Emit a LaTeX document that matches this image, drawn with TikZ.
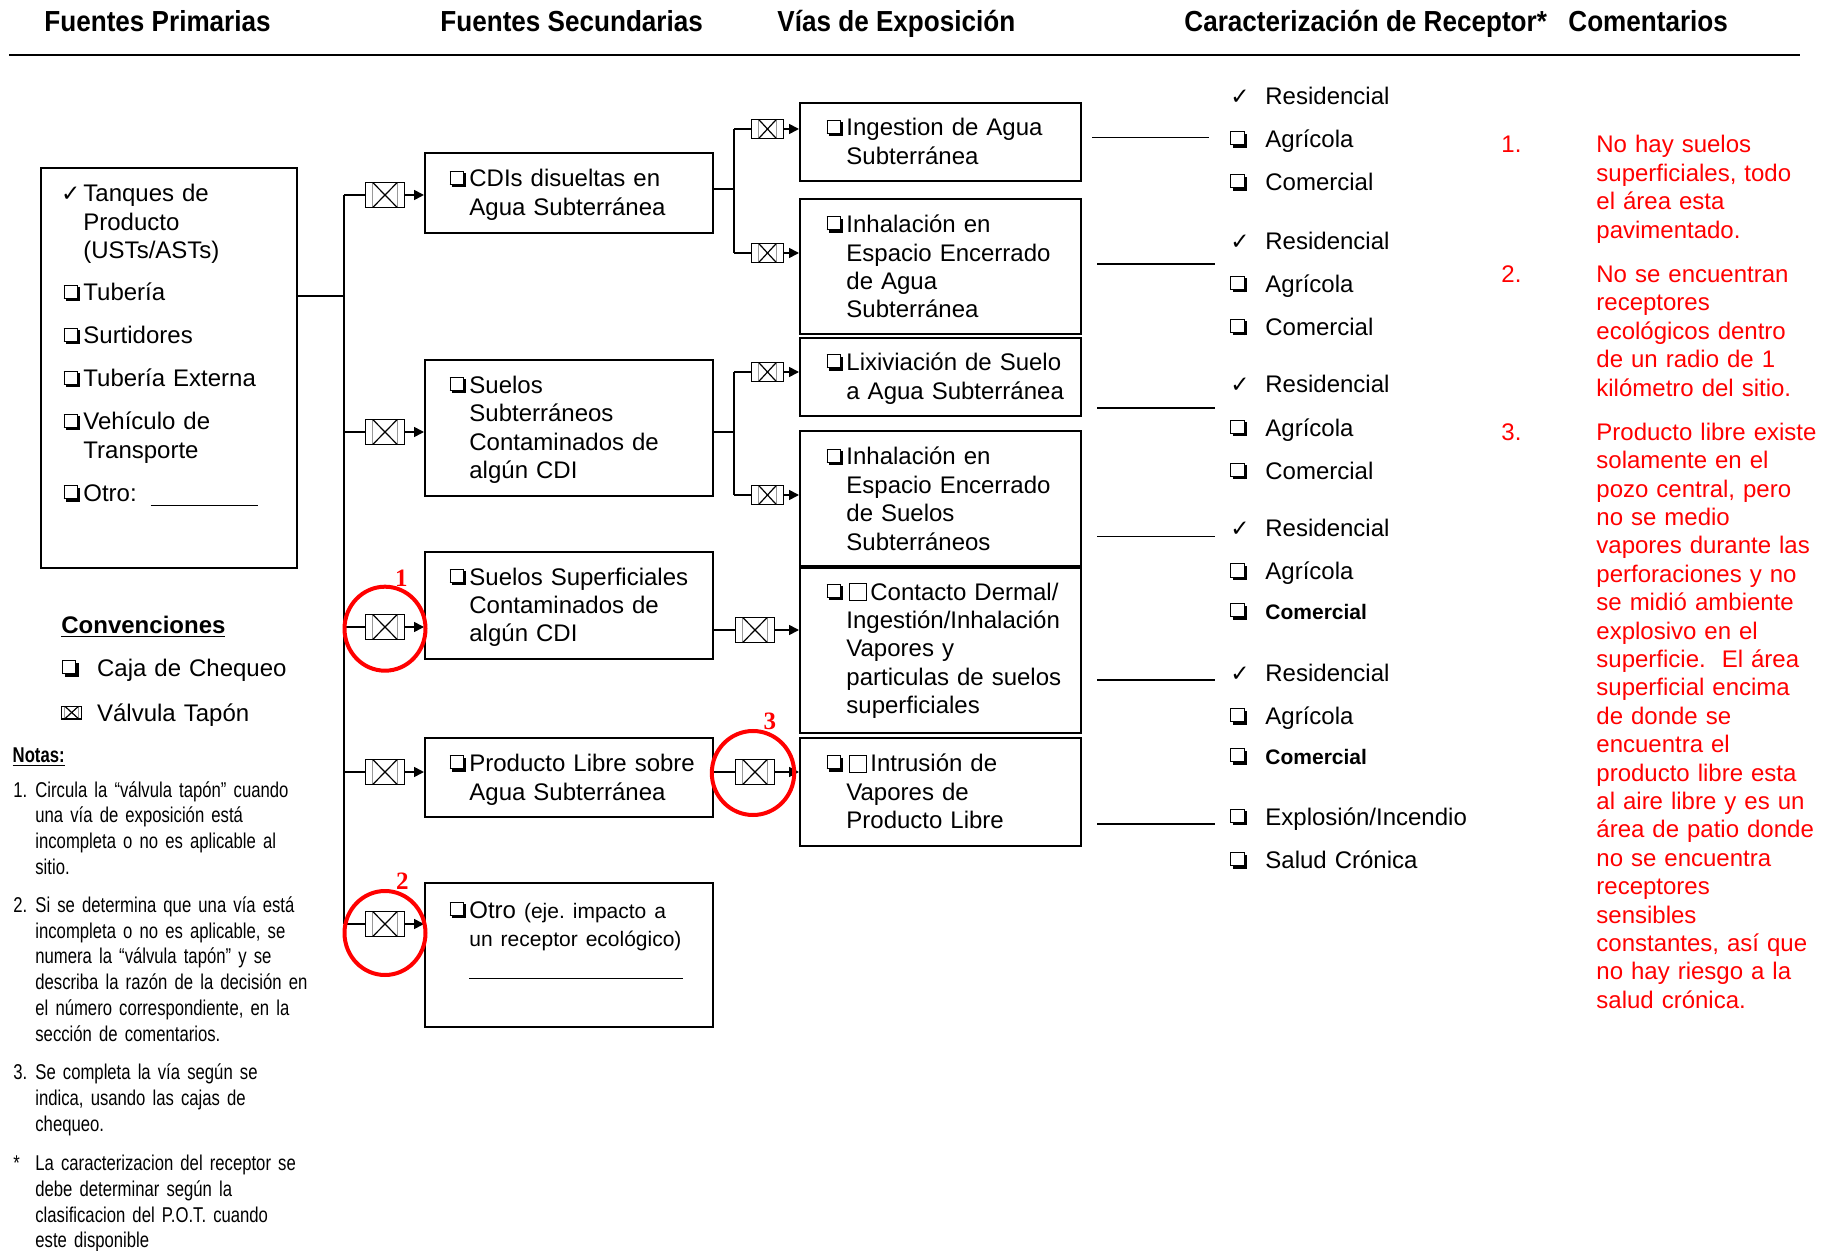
\documentclass[tikz,border=0pt]{standalone}
\usepackage{fontspec}
\setmainfont{Liberation Sans}
\newfontfamily\headfont{Liberation Sans}[FakeStretch=0.9]
\newfontfamily\narrowfont{Liberation Sans}[FakeStretch=0.78]
\newfontfamily\symfont{DejaVu Sans}
\newfontfamily\digitfont{Liberation Serif}
\usetikzlibrary{positioning}
\usetikzlibrary{arrows.meta}
\usetikzlibrary{calc}

\definecolor{cmtred}{RGB}{255,0,0}
% shadowed check box, made of rules
\newcommand{\cbx}{\makebox[8.4pt][l]{%
	\rlap{\rule[1.2pt]{7pt}{0.45pt}}%
	\rlap{\rule[7.75pt]{7pt}{0.45pt}}%
	\rlap{\rule[1.2pt]{0.45pt}{7pt}}%
	\rlap{\hspace{6.55pt}\rule[1.2pt]{0.45pt}{7pt}}%
	\rlap{\hspace{1.2pt}\rule{7pt}{1.2pt}}%
	\rlap{\hspace{7pt}\rule{1.2pt}{7pt}}}}
\newcommand{\tck}{{\symfont\fontsize{11.5}{11.5}\selectfont ✓}}
\newcommand{\ebx}{{\setlength{\fboxsep}{0pt}\setlength{\fboxrule}{0.5pt}\fbox{\rule{0pt}{8pt}\hspace{8pt}}}\kern1.5pt}
\newcommand{\cbold}{\fontsize{10.5}{12}\selectfont\bfseries}

\begin{document}
\begin{tikzpicture}[x=0.5pt, y=-0.5pt,
		box/.style={draw, line width=1pt, inner sep=0pt},
		conn/.style={line width=0.85pt},
		arr/.style={conn, -{Triangle[length=5pt,width=5pt]}},
		valve/.style={draw, line width=0.6pt, inner sep=0pt, minimum width=19.5pt, minimum height=12.75pt,
			path picture={
				\draw[line width=0.3pt, black!40] ([xshift=#1]path picture bounding box.north west) -- ([xshift=#1]path picture bounding box.south west)
					([xshift=-#1]path picture bounding box.north east) -- ([xshift=-#1]path picture bounding box.south east);
				\draw[line width=0.6pt] ([xshift=#1]path picture bounding box.north west) -- ([xshift=-#1]path picture bounding box.south east)
					([xshift=#1]path picture bounding box.south west) -- ([xshift=-#1]path picture bounding box.north east);}},
		valve/.default=3.5pt,
		mvalve/.style={valve, minimum width=15.8pt, minimum height=9.5pt},
		ring/.style={draw=cmtred, line width=2pt},
		ringno/.style={inner sep=0pt, text=cmtred, font=\digitfont\bfseries\fontsize{12.5}{14}\selectfont},
		head/.style={anchor=base west, inner sep=0pt, font=\headfont\bfseries\fontsize{14.5}{17}\selectfont},
		txt/.style={anchor=base west, inner sep=0pt, text width=150pt, align=left, font=\fontsize{12}{14.2}\selectfont},
		ctxt/.style={txt, text=cmtred},
		ntxt/.style={txt, font=\narrowfont\fontsize{10.7}{12.85}\selectfont}]

	\useasboundingbox (0,0) rectangle (1832,1251);

	% column titles
	\node[head] (h1) at (44,32) {Fuentes Primarias};
	\node[head] (h2) at (440,32) {Fuentes Secundarias};
	\node[head] (h3) at (777,32) {Vías de Exposición};
	\node[head] (h4) at (1184,32) {Caracterización de Receptor*};
	\node[head] (h5) at (1568,32) {Comentarios};
	\coordinate (hl) at (9,55.5);
	\coordinate (hr) at (1800,55.5);
	\draw[line width=1pt] (hl) -- (hr);

	% primary sources
	\node[box, minimum width=128pt, minimum height=200pt] (prim) at (169,368) {};
	\node[txt] (pi1) at (83,201.7) {\llap{\tck\hspace{1.5pt}}Tanques de\\Producto\\(USTs/ASTs)};
	\node[txt] (pi2) at (83,301) {\llap{\cbx\hspace{1.5pt}}Tubería};
	\node[txt] (pi3) at (83,344) {\llap{\cbx\hspace{1.5pt}}Surtidores};
	\node[txt] (pi4) at (83,387) {\llap{\cbx\hspace{1.5pt}}Tubería Externa};
	\node[txt] (pi5) at (83,430) {\llap{\cbx\hspace{1.5pt}}Vehículo de\\Transporte};
	\node[txt] (pi6) at (83,501.7) {\llap{\cbx\hspace{1.5pt}}Otro:\hspace{7pt}\rule[-2pt]{53.5pt}{0.5pt}};

	% secondary sources
	\foreach \n/\y/\h in {s1/193/80, s2/428/136, s3/605.5/107, s4/777.5/79, s5/955/144}
		\node[box, minimum width=144pt, minimum height=\h*0.5pt] (\n) at (569,\y) {};
	\node[txt] (st1) at (469,187) {\llap{\cbx\hspace{1.5pt}}CDIs disueltas en\\Agua Subterránea};
	\node[txt] (st2) at (469,393.3) {\llap{\cbx\hspace{1.5pt}}Suelos\\Subterráneos\\Contaminados de\\algún CDI};
	\node[txt] (st3) at (469,585) {\llap{\cbx\hspace{1.5pt}}Suelos Superficiales\\Contaminados de\\algún CDI};
	\node[txt] (st4) at (469,771.7) {\llap{\cbx\hspace{1.5pt}}Producto Libre sobre\\Agua Subterránea};
	\node[txt] (st5) at (469,918.3) {\llap{\cbx\hspace{1.5pt}}Otro {\fontsize{10.5}{12}\selectfont(eje.\ impacto a}\\{\fontsize{10.5}{12}\selectfont un receptor ecológico)}\\\rule[-2pt]{107pt}{0.5pt}};

	% exposure pathways
	\foreach \n/\y/\h in {p1/142/78, p2/266.5/135, p3/377/78, p4/498.5/135, p5/650.25/164.5, p6/792/108}
		\node[box, minimum width=140.5pt, minimum height=\h*0.5pt] (\n) at (940.5,\y) {};
	\node[txt] (pt1) at (846,136) {\llap{\cbx\hspace{1.5pt}}Ingestion de Agua\\Subterránea};
	\node[txt] (pt2) at (846,232.7) {\llap{\cbx\hspace{1.5pt}}Inhalación en\\Espacio Encerrado\\de Agua\\Subterránea};
	\node[txt] (pt3) at (846,370.7) {\llap{\cbx\hspace{1.5pt}}Lixiviación de Suelo\\a Agua Subterránea};
	\node[txt] (pt4) at (846,465) {\llap{\cbx\hspace{1.5pt}}Inhalación en\\Espacio Encerrado\\de Suelos\\Subterráneos};
	\node[txt] (pt5) at (846,600) {\llap{\cbx\hspace{1.5pt}}\hspace{1.5pt}\ebx Contacto Dermal/\\Ingestión/Inhalación\\Vapores y\\particulas de suelos\\superficiales};
	\node[txt] (pt6) at (846,771.7) {\llap{\cbx\hspace{1.5pt}}\hspace{1.5pt}\ebx Intrusión de\\Vapores de\\Producto Libre};

	% valves, first level
	\foreach \n/\y in {v1/195, v2/432, v3/627, v4/772, v5/924}
		\node[valve] (\n) at (385,\y) {};
	\coordinate (tk) at (344,296);
	\draw[conn] (prim.east |- tk) -- (tk);
	\draw[conn] (v1.west -| tk) -- (v5.west -| tk);
	\foreach \v/\s in {v1/s1, v2/s2, v3/s3, v4/s4, v5/s5} {
		\draw[conn] (\v.west -| tk) -- (\v.west);
		\draw[arr] (\v.east) -- (\s.west |- \v.east);
	}

	% valves, second level
	\foreach \n/\y in {w1/129, w2/253, w3/372, w4/495}
		\node[mvalve] (\n) at (767.5,\y) {};
	\node[valve] (w5) at (755,630) {};
	\node[valve] (w6) at (755,772) {};
	\coordinate (j1) at (734,189);
	\coordinate (j2) at (734,432);
	\draw[conn] (s1.east |- j1) -- (j1);
	\draw[conn] (w1.west -| j1) -- (w2.west -| j1);
	\draw[conn] (s2.east |- j2) -- (j2);
	\draw[conn] (w3.west -| j2) -- (w4.west -| j2);
	\foreach \w in {w1,w2} \draw[conn] (\w.west -| j1) -- (\w.west);
	\foreach \w in {w3,w4} \draw[conn] (\w.west -| j2) -- (\w.west);
	\draw[conn] (s3.east |- w5.west) -- (w5.west);
	\draw[conn] (s4.east |- w6.west) -- (w6.west);
	\foreach \w/\p in {w1/p1, w2/p2, w3/p3, w4/p4, w5/p5, w6/p6}
		\draw[arr] (\w.east) -- (\p.west |- \w.east);

	% circled valves
	\draw[ring] ([yshift=-0.85pt]v3.center) ellipse [x radius=20.25pt, y radius=21pt];
	\draw[ring] ([yshift=-4.5pt]v5.center) ellipse [x radius=20.25pt, y radius=21pt];
	\draw[ring] ([xshift=-1pt,yshift=-0.5pt]w6.center) ellipse [x radius=20.6pt, y radius=21pt];
	\node[ringno] (rn1) at (401.4,578.3) {1};
	\node[ringno] (rn2) at (402.4,881.7) {2};
	\node[ringno] (rn3) at (769.8,721.7) {3};

	% receptors
	\foreach \xa/\xb/\y [count=\i] in {1092/1209/137.5, 1097/1215/264, 1097/1215/408, 1097/1215/536.5, 1097/1215/680, 1097/1215/824} {
		\coordinate (ra\i) at (\xa,\y);
		\coordinate (rb\i) at (\xb,\y);
		\draw[conn] (ra\i) -- (rb\i);
	}
	\foreach \m/\t/\y [count=\i] in {\tck/Residencial/104.5, \cbx/Agrícola/147.6, \cbx/Comercial/190.8,
			\tck/Residencial/249.2, \cbx/Agrícola/292.5, \cbx/Comercial/335.5,
			\tck/Residencial/392.9, \cbx/Agrícola/436.1, \cbx/Comercial/479.4,
			\tck/Residencial/536.5, \cbx/Agrícola/579.9, \cbx/{\cbold Comercial}/619.5,
			\tck/Residencial/681.5, \cbx/Agrícola/724.5, \cbx/{\cbold Comercial}/764.5,
			\cbx/{Explosión/Incendio}/825.2, \cbx/Salud Crónica/868.5}
		\node[txt] (rc\i) at (1265,\y) {\llap{\makebox[17.5pt][l]{\m}}\t};

	% comments
	\node[ctxt] (cn1) at (1501,153) {1.};
	\node[ctxt] (ct1) at (1596,153) {No hay suelos\\superficiales, todo\\el área esta\\pavimentado.};
	\node[ctxt] (cn2) at (1501,282.6) {2.};
	\node[ctxt] (ct2) at (1596,282.6) {No se encuentran\\receptores\\ecológicos dentro\\de un radio de 1\\kilómetro del sitio.};
	\node[ctxt] (cn3) at (1501,440.3) {3.};
	\node[ctxt] (ct3) at (1596,440.3) {Producto libre existe\\solamente en el\\pozo central, pero\\no se medio\\vapores durante las\\perforaciones y no\\se midió ambiente\\explosivo en el\\superficie.\ \ El área\\superficial encima\\de donde se\\encuentra el\\producto libre esta\\al aire libre y es un\\área de patio donde\\no se encuentra\\receptores\\sensibles\\constantes, así que\\no hay riesgo a la\\salud crónica.};

	% legend
	\node[txt, font=\bfseries\fontsize{12}{14.2}\selectfont] (conv) at (61,633.6) {\underline{Convenciones}};
	\node[txt] (lg1) at (96.7,676.6) {\llap{\makebox[17.5pt][l]{\cbx}}Caja de Chequeo};
	\node[valve=1.5pt, minimum width=10pt, minimum height=6.4pt] (lgv) at (71.7,712.5) {};
	\node[txt] (lg2) at (96.7,721) {Válvula Tapón};

	% notes
	\node[ntxt, font=\narrowfont\bfseries\fontsize{10.7}{12.85}\selectfont] (notas) at (12.3,762.7) {\underline{Notas:}};
	\node[ntxt] (nt1) at (35,797) {\llap{\makebox[11pt][l]{1.}}Circula la “válvula tapón” cuando\\una vía de exposición está\\incompleta o no es aplicable al\\sitio.};
	\node[ntxt] (nt2) at (35,912.5) {\llap{\makebox[11pt][l]{2.}}Si se determina que una vía está\\incompleta o no es aplicable, se\\numera la “válvula tapón” y se\\describa la razón de la decisión en\\el número correspondiente, en la\\sección de comentarios.};
	\node[ntxt] (nt3) at (35,1079.6) {\llap{\makebox[11pt][l]{3.}}Se completa la vía según se\\indica, usando las cajas de\\chequeo.};
	\node[ntxt] (nt4) at (35,1170.7) {\llap{\makebox[11pt][l]{*}}La caracterizacion del receptor se\\debe determinar según la\\clasificacion del P.O.T. cuando\\este disponible};
\end{tikzpicture}
\end{document}
